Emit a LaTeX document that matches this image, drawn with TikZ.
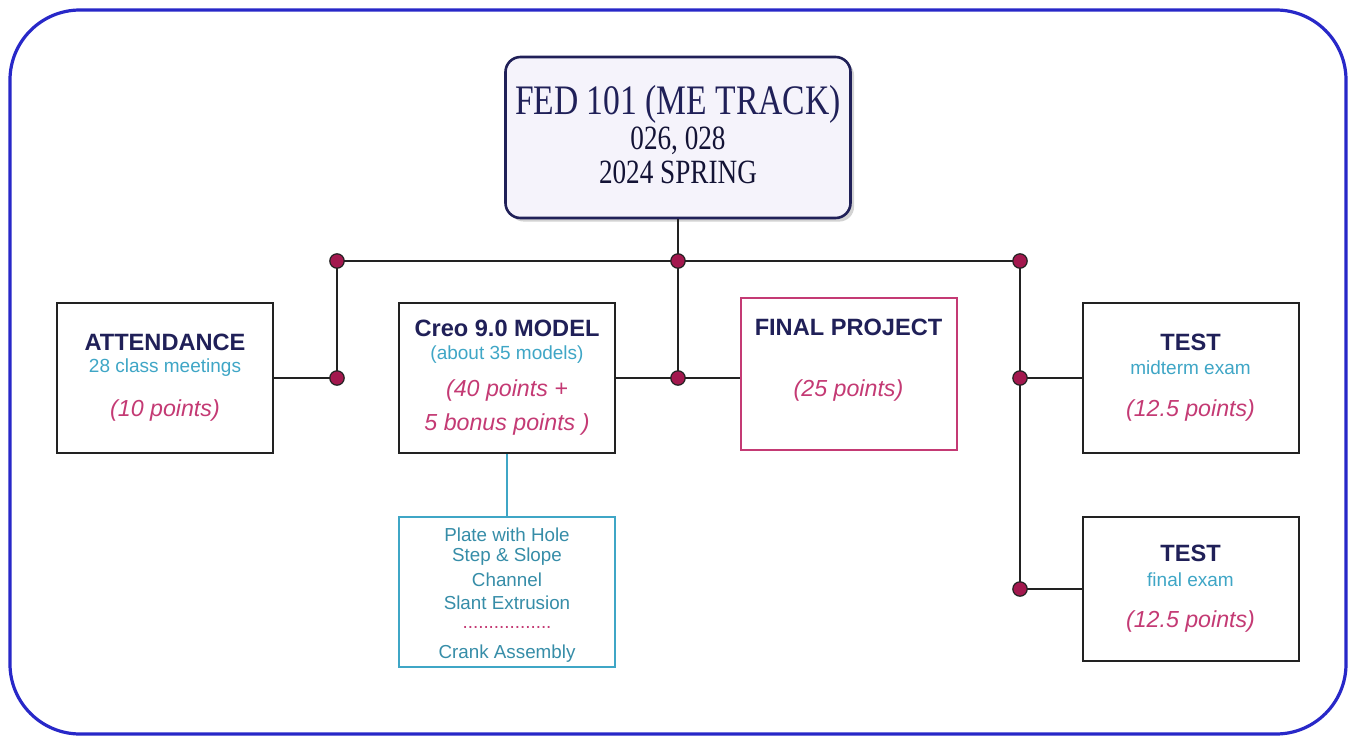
\documentclass[tikz,border=0pt]{standalone}
\usepackage{fontspec}
\newfontfamily\sansfont{Liberation Sans}
\newfontfamily\titlefont[FakeStretch=0.8]{Liberation Serif}
\usetikzlibrary{shadows}

\definecolor{fednavy}{HTML}{202058}
\definecolor{fedteal}{HTML}{3FA6C6}
\definecolor{fedpink}{HTML}{C43A74}
\definecolor{fedblue}{HTML}{2828C8}
\definecolor{fedwire}{HTML}{222222}
\definecolor{feddot}{HTML}{A3184E}
\definecolor{fedlilac}{HTML}{F5F3FB}

\begin{document}
\begin{tikzpicture}[x=0.5pt,y=-0.5pt,font=\sansfont,
    box/.style={draw=fedwire,line width=1pt,fill=white,inner sep=0pt,
                minimum width=108pt,minimum height=75pt},
    head/.style={font=\sansfont\bfseries\fontsize{11.8}{14}\selectfont,text=fednavy},
    sub/.style={font=\sansfont\fontsize{9.5}{11}\selectfont,text=fedteal},
    pts/.style={font=\sansfont\itshape\fontsize{11.6}{14}\selectfont,text=fedpink},
    item/.style={font=\sansfont\fontsize{9.4}{11}\selectfont,text=fedteal!85!black},
    wire/.style={draw=fedwire,line width=1pt},
    junction/.style={fill=feddot,draw=fedwire,line width=0.6pt}]

  \useasboundingbox (0,0) rectangle (1355,740);
  \draw[fedblue,line width=1.6pt,rounded corners=35pt] (10,10) rectangle (1346,734);

  % title
  \node[draw=fednavy,line width=1.3pt,fill=fedlilac,rounded corners=7.5pt,inner sep=0pt,
        minimum width=172.5pt,minimum height=80.5pt,
        drop shadow={shadow xshift=1.8pt,shadow yshift=-1.8pt,opacity=0.35}]
        (fed) at (678,137.5) {};
  \node[font=\titlefont\fontsize{21}{24}\selectfont,text=fednavy] (fed-1) at (678,104) {FED 101 (ME TRACK)};
  \node[font=\titlefont\fontsize{17}{20}\selectfont,text=fednavy!60!black] (fed-2) at (678,141) {026, 028};
  \node[font=\titlefont\fontsize{17}{20}\selectfont,text=fednavy!60!black] (fed-3) at (678,172) {2024 SPRING};

  % boxes
  \node[box] (att)  at (165,378)    {};
  \node[box] (creo) at (507,378)    {};
  \node[box,draw=fedpink,minimum height=76pt] (fin) at (848.5,374) {};
  \node[box] (mid)  at (1190.5,378) {};
  \node[box,minimum height=72pt] (fnl) at (1190.5,589) {};
  \node[box,draw=fedteal,line width=0.9pt] (mods) at (507,592) {};

  \node[head] (att-h) at (165,342) {ATTENDANCE};
  \node[sub]  (att-s) at (165,368) {28 class meetings};
  \node[pts]  (att-p) at (165,410) {(10 points)};

  \node[head] (creo-h) at (507,328) {Creo 9.0 MODEL};
  \node[sub]  (creo-s) at (507,355) {(about 35 models)};
  \node[pts]  (creo-p) at (507,390) {(40 points +};
  \node[pts]  (creo-q) at (507,424) {5 bonus points )};

  \node[head] (fin-h) at (848.5,327) {FINAL PROJECT};
  \node[pts]  (fin-p) at (848.5,390) {(25 points)};

  \node[head] (mid-h) at (1190.5,342) {TEST};
  \node[sub]  (mid-s) at (1190.5,368) {midterm exam};
  \node[pts]  (mid-p) at (1190.5,410) {(12.5 points)};

  \node[head] (fnl-h) at (1190.5,553) {TEST};
  \node[sub]  (fnl-s) at (1190.5,580) {final exam};
  \node[pts]  (fnl-p) at (1190.5,621) {(12.5 points)};

  \node[item] (mods-1) at (507,535) {Plate with Hole};
  \node[item] (mods-2) at (507,557) {Step \& Slope};
  \node[item] (mods-3) at (507,580) {Channel};
  \node[item] (mods-4) at (507,603) {Slant Extrusion};
  \node[item,text=fedpink] (mods-5) at (507,627) {.................};
  \node[item] (mods-6) at (507,654) {Crank Assembly};

  % junctions
  \coordinate (j1) at (337,261);
  \coordinate (j2) at (678,261);
  \coordinate (j3) at (1020,261);
  \coordinate (j4) at (337,378);
  \coordinate (j5) at (678,378);
  \coordinate (j6) at (1020,378);
  \coordinate (j7) at (1020,589);

  \path[wire] (j1) edge (j3)
              (fed) edge (j2)
              (j1) edge (j4)
              (j4) edge (att)
              (j2) edge (j5)
              (creo) edge (j5)
              (j5) edge (j5 -| fin.west)
              (j3) edge (j7)
              (j6) edge (mid)
              (j7) edge (fnl);
  \draw[fedteal,line width=1pt] (creo) -- (mods);

  \foreach \j in {j1,j2,j3,j4,j5,j6,j7}
    \filldraw[junction] (\j) circle (3.6pt);
\end{tikzpicture}
\end{document}
